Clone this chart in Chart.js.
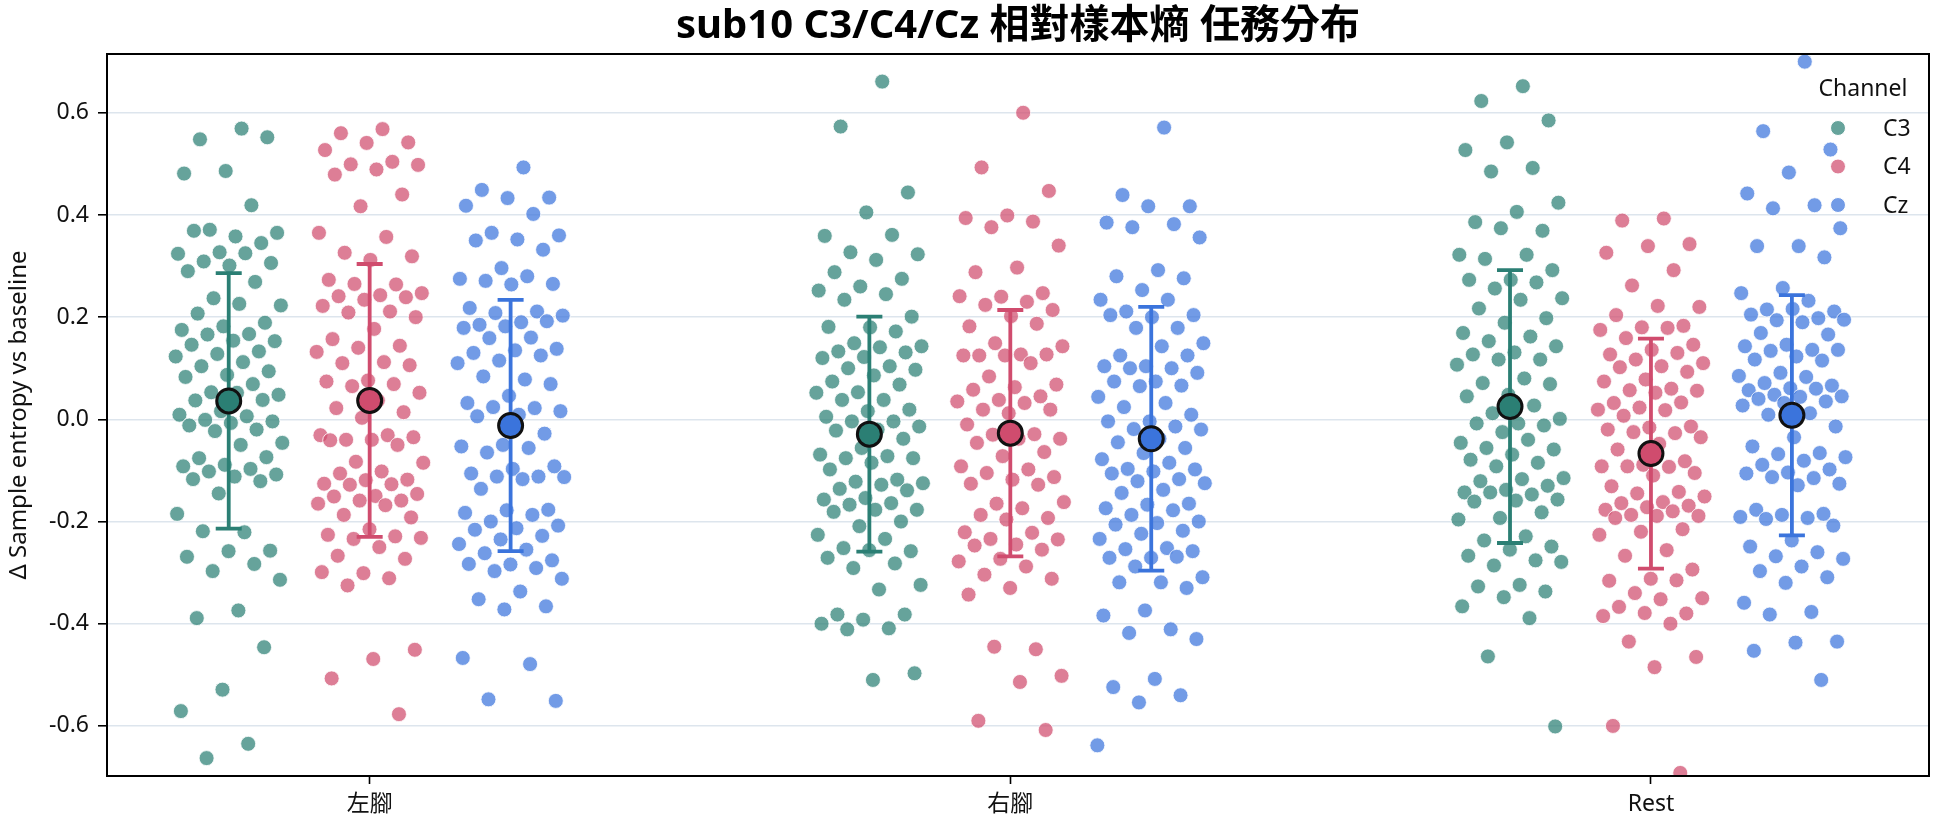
<!DOCTYPE html>
<html>
<head>
<meta charset="utf-8">
<title>sub10 C3/C4/Cz 相對樣本熵 任務分布</title>
<script src="https://cdn.jsdelivr.net/npm/chart.js@4.4.1/dist/chart.umd.min.js"></script>
<style>
    html, body { margin: 0; padding: 0; background: #fff; }
    #chart-area { display: block; }
</style>
</head>
<body>
<canvas id="chart-area" width="1944" height="827"></canvas>
<script>
const categories = ['左腳', '右腳', 'Rest'];
const channels = ['C3', 'C4', 'Cz'];
const yTicks = [-0.6, -0.4, -0.2, 0.0, 0.2, 0.4, 0.6];

// Δ sample entropy per trial
const c3Left = [0.569, 0.548, 0.552, 0.486, 0.481, 0.419, 0.371, 0.365, 0.358, 0.369, 0.345, 0.327, 0.324, 0.325, 0.309, 0.306, 0.301, 0.29, 0.269, 0.237, 0.223, 0.226, 0.207, 0.189, 0.182, 0.175, 0.167, 0.166, 0.153, 0.154, 0.146, 0.133, 0.128, 0.123, 0.112, 0.104, 0.094, 0.087, 0.083, 0.069, 0.053, 0.048, 0.052, 0.037, 0.038, 0.016, 0.009, 0.006, -0.001, -0.004, -0.007, -0.012, -0.02, -0.023, -0.046, -0.05, -0.076, -0.074, -0.089, -0.092, -0.097, -0.102, -0.108, -0.112, -0.117, -0.121, -0.145, -0.185, -0.221, -0.219, -0.257, -0.258, -0.269, -0.283, -0.297, -0.314, -0.374, -0.389, -0.446, -0.529, -0.571, -0.635, -0.663];
const c4Left = [0.568, 0.56, 0.542, 0.541, 0.527, 0.504, 0.499, 0.498, 0.489, 0.479, 0.44, 0.417, 0.365, 0.357, 0.326, 0.319, 0.312, 0.273, 0.264, 0.265, 0.247, 0.243, 0.241, 0.239, 0.234, 0.222, 0.211, 0.209, 0.2, 0.177, 0.157, 0.144, 0.14, 0.132, 0.112, 0.11, 0.106, 0.076, 0.074, 0.069, 0.065, 0.052, 0.037, 0.022, 0.014, 0.003, -0.031, -0.031, -0.04, -0.035, -0.04, -0.041, -0.05, -0.083, -0.085, -0.102, -0.106, -0.118, -0.119, -0.126, -0.127, -0.128, -0.146, -0.15, -0.151, -0.159, -0.159, -0.165, -0.168, -0.187, -0.192, -0.215, -0.226, -0.229, -0.234, -0.232, -0.25, -0.267, -0.273, -0.301, -0.299, -0.311, -0.325, -0.451, -0.469, -0.507, -0.577];
const czLeft = [0.493, 0.449, 0.434, 0.433, 0.418, 0.402, 0.365, 0.36, 0.352, 0.35, 0.332, 0.296, 0.275, 0.28, 0.271, 0.265, 0.264, 0.218, 0.211, 0.208, 0.203, 0.19, 0.185, 0.192, 0.182, 0.179, 0.16, 0.159, 0.138, 0.135, 0.13, 0.125, 0.115, 0.11, 0.078, 0.084, 0.069, 0.046, 0.032, 0.022, 0.024, 0.016, 0.009, 0.006, -0.028, -0.05, -0.053, -0.056, -0.065, -0.092, -0.097, -0.106, -0.112, -0.112, -0.113, -0.117, -0.136, -0.177, -0.178, -0.183, -0.187, -0.2, -0.208, -0.213, -0.216, -0.228, -0.235, -0.244, -0.255, -0.262, -0.276, -0.284, -0.283, -0.291, -0.297, -0.312, -0.337, -0.352, -0.366, -0.372, -0.467, -0.479, -0.548, -0.551];

const c3Right = [0.661, 0.573, 0.444, 0.405, 0.359, 0.361, 0.327, 0.323, 0.312, 0.288, 0.275, 0.26, 0.252, 0.245, 0.234, 0.201, 0.18, 0.181, 0.172, 0.149, 0.143, 0.141, 0.133, 0.131, 0.122, 0.12, 0.104, 0.1, 0.097, 0.086, 0.074, 0.068, 0.053, 0.052, 0.038, 0.038, 0.019, 0.016, 0.005, -0.004, -0.004, -0.014, -0.02, -0.022, -0.038, -0.056, -0.069, -0.072, -0.076, -0.076, -0.085, -0.098, -0.118, -0.122, -0.125, -0.128, -0.136, -0.139, -0.154, -0.157, -0.164, -0.167, -0.177, -0.177, -0.181, -0.2, -0.209, -0.226, -0.234, -0.252, -0.258, -0.256, -0.271, -0.282, -0.291, -0.324, -0.333, -0.382, -0.382, -0.392, -0.4, -0.409, -0.411, -0.497, -0.51];
const c4Right = [0.6, 0.493, 0.447, 0.399, 0.394, 0.387, 0.376, 0.34, 0.297, 0.288, 0.247, 0.24, 0.241, 0.23, 0.224, 0.214, 0.202, 0.182, 0.187, 0.149, 0.143, 0.127, 0.125, 0.127, 0.125, 0.125, 0.11, 0.084, 0.068, 0.063, 0.058, 0.045, 0.038, 0.035, 0.032, 0.019, 0.019, 0.012, -0.01, -0.029, -0.03, -0.038, -0.038, -0.046, -0.064, -0.072, -0.092, -0.098, -0.105, -0.113, -0.118, -0.126, -0.128, -0.165, -0.162, -0.174, -0.187, -0.193, -0.196, -0.221, -0.222, -0.234, -0.235, -0.245, -0.247, -0.255, -0.273, -0.278, -0.288, -0.304, -0.312, -0.33, -0.343, -0.45, -0.445, -0.502, -0.514, -0.59, -0.608];
const czRight = [0.571, 0.439, 0.417, 0.417, 0.385, 0.382, 0.376, 0.356, 0.292, 0.28, 0.276, 0.253, 0.234, 0.234, 0.211, 0.204, 0.2, 0.204, 0.179, 0.179, 0.149, 0.143, 0.125, 0.125, 0.104, 0.104, 0.1, 0.1, 0.091, 0.074, 0.074, 0.066, 0.065, 0.044, 0.032, 0.024, 0.009, -0.004, -0.004, -0.014, -0.019, -0.02, -0.038, -0.045, -0.056, -0.066, -0.078, -0.085, -0.097, -0.098, -0.102, -0.106, -0.117, -0.121, -0.125, -0.138, -0.144, -0.165, -0.167, -0.174, -0.178, -0.187, -0.2, -0.203, -0.206, -0.218, -0.224, -0.234, -0.252, -0.254, -0.258, -0.271, -0.271, -0.269, -0.288, -0.309, -0.319, -0.319, -0.33, -0.374, -0.384, -0.411, -0.418, -0.43, -0.508, -0.524, -0.54, -0.554, -0.638];

const c3Rest = [0.652, 0.623, 0.585, 0.542, 0.527, 0.492, 0.485, 0.424, 0.406, 0.386, 0.369, 0.374, 0.322, 0.322, 0.314, 0.292, 0.273, 0.273, 0.268, 0.256, 0.237, 0.234, 0.217, 0.198, 0.189, 0.169, 0.162, 0.153, 0.143, 0.131, 0.127, 0.117, 0.117, 0.107, 0.08, 0.071, 0.069, 0.048, 0.045, 0.027, 0.012, 0.001, -0.008, -0.008, -0.012, -0.025, -0.046, -0.04, -0.056, -0.059, -0.069, -0.079, -0.085, -0.092, -0.115, -0.117, -0.121, -0.13, -0.138, -0.143, -0.147, -0.143, -0.157, -0.159, -0.161, -0.182, -0.193, -0.196, -0.229, -0.237, -0.249, -0.255, -0.267, -0.276, -0.286, -0.279, -0.324, -0.327, -0.337, -0.348, -0.366, -0.389, -0.464, -0.601];
const c4Rest = [0.393, 0.389, 0.343, 0.339, 0.326, 0.292, 0.262, 0.22, 0.222, 0.204, 0.183, 0.18, 0.175, 0.179, 0.159, 0.146, 0.136, 0.127, 0.13, 0.117, 0.11, 0.104, 0.102, 0.093, 0.078, 0.074, 0.06, 0.057, 0.056, 0.052, 0.032, 0.033, 0.023, 0.019, 0.018, 0.007, -0.014, -0.016, -0.02, -0.027, -0.025, -0.035, -0.048, -0.059, -0.082, -0.089, -0.092, -0.093, -0.092, -0.105, -0.11, -0.131, -0.142, -0.145, -0.151, -0.162, -0.164, -0.169, -0.172, -0.177, -0.18, -0.187, -0.189, -0.189, -0.193, -0.215, -0.22, -0.226, -0.256, -0.267, -0.294, -0.312, -0.316, -0.315, -0.34, -0.35, -0.352, -0.367, -0.38, -0.379, -0.385, -0.4, -0.435, -0.465, -0.485, -0.6, -0.692];
const czRest = [0.7, 0.564, 0.528, 0.483, 0.442, 0.419, 0.413, 0.374, 0.339, 0.339, 0.317, 0.257, 0.247, 0.232, 0.215, 0.211, 0.216, 0.205, 0.198, 0.194, 0.195, 0.19, 0.169, 0.166, 0.146, 0.143, 0.136, 0.134, 0.136, 0.123, 0.117, 0.115, 0.091, 0.085, 0.083, 0.071, 0.066, 0.061, 0.057, 0.06, 0.048, 0.045, 0.044, 0.04, 0.035, 0.032, 0.027, 0.012, 0.009, -0.014, -0.035, -0.053, -0.066, -0.068, -0.074, -0.081, -0.089, -0.098, -0.104, -0.106, -0.115, -0.113, -0.126, -0.129, -0.177, -0.185, -0.187, -0.191, -0.193, -0.195, -0.208, -0.237, -0.249, -0.26, -0.268, -0.273, -0.288, -0.297, -0.309, -0.32, -0.359, -0.377, -0.382, -0.435, -0.437, -0.453, -0.51];

// mean and SD per task (左腳, 右腳, Rest)
const meanC3 = [0.036, -0.029, 0.025];
const meanC4 = [0.037, -0.027, -0.067];
const meanCz = [-0.012, -0.038, 0.008];
const sdC3 = [0.25, 0.23, 0.267];
const sdC4 = [0.267, 0.241, 0.225];
const sdCz = [0.246, 0.258, 0.235];

const cores = ['#2b7f74', '#d04c6e', '#3b74dc'];
const dodge = [-0.22, 0, 0.22];
const fonte = "'Noto Sans', 'Noto Sans CJK TC', sans-serif";

function rgba(hex, a) {
    const n = parseInt(hex.slice(1), 16);
    return 'rgba(' + (n >> 16) + ',' + ((n >> 8) & 255) + ',' + (n & 255) + ',' + a + ')';
}

// spread points sideways like a strip plot
function jitter(i) {
    return (((i + 1) * 0.618034) % 1 - 0.5) * 0.17;
}

function pontos(grupos, offset) {
    let pts = [];
    grupos.forEach((vals, k) => {
        vals.forEach((v, i) => pts.push({ x: k + offset + jitter(i), y: v }));
    });
    return pts;
}

const valores = [
    [c3Left, c3Right, c3Rest],
    [c4Left, c4Right, c4Rest],
    [czLeft, czRight, czRest]
];
const medias = [meanC3, meanC4, meanCz];
const desvios = [sdC3, sdC4, sdCz];

let mediaPts = [];
let mediaCores = [];
let barras = [];
categories.forEach((cat, k) => {
    channels.forEach((ch, c) => {
        const x = k + dodge[c];
        mediaPts.push({ x: x, y: medias[c][k] });
        mediaCores.push(cores[c]);
        barras.push({ x: x, lo: medias[c][k] - desvios[c][k], hi: medias[c][k] + desvios[c][k], cor: cores[c] });
    });
});

const errorBars = {
    id: 'errorBars',
    beforeDatasetDraw(chart, args) {
        if (args.index !== 3) return;
        const ctx = chart.ctx;
        const sx = chart.scales.x, sy = chart.scales.y;
        ctx.save();
        ctx.lineWidth = 3.8;
        barras.forEach(b => {
            const px = sx.getPixelForValue(b.x);
            const top = sy.getPixelForValue(b.hi);
            const bot = sy.getPixelForValue(b.lo);
            ctx.strokeStyle = b.cor;
            ctx.beginPath();
            ctx.moveTo(px, top);
            ctx.lineTo(px, bot);
            ctx.moveTo(px - 13, top);
            ctx.lineTo(px + 13, top);
            ctx.moveTo(px - 13, bot);
            ctx.lineTo(px + 13, bot);
            ctx.stroke();
        });
        ctx.restore();
    }
};

const moldura = {
    id: 'moldura',
    afterDraw(chart) {
        const ctx = chart.ctx;
        const a = chart.chartArea;
        ctx.save();
        ctx.strokeStyle = '#000';
        ctx.lineWidth = 2;
        ctx.strokeRect(a.left, a.top, a.right - a.left, a.bottom - a.top);

        // title
        ctx.fillStyle = '#000';
        ctx.font = 'bold 40px ' + fonte;
        ctx.textAlign = 'center';
        ctx.textBaseline = 'middle';
        ctx.fillText('sub10 C3/C4/Cz 相對樣本熵 任務分布', (a.left + a.right) / 2, 27);

        // legend
        ctx.font = '23px ' + fonte;
        ctx.fillStyle = '#111';
        ctx.fillText('Channel', 1863, 89);
        ctx.textAlign = 'left';
        channels.forEach((ch, c) => {
            const y = 128 + c * 38.5;
            ctx.beginPath();
            ctx.arc(1838, y, 7.5, 0, Math.PI * 2);
            ctx.fillStyle = rgba(cores[c], 0.72);
            ctx.fill();
            ctx.lineWidth = 1;
            ctx.strokeStyle = '#fff';
            ctx.stroke();
            ctx.fillStyle = '#111';
            ctx.fillText(ch, 1883, y + 1);
        });
        ctx.restore();
    }
};

function gerarGrafico() {
    let datasets = channels.map((ch, c) => ({
        label: ch,
        data: pontos(valores[c], dodge[c]),
        backgroundColor: rgba(cores[c], 0.72),
        borderColor: 'rgba(255,255,255,0.8)',
        borderWidth: 1,
        pointRadius: 7.5,
        order: 1
    }));
    datasets.push({
        label: 'mean',
        data: mediaPts,
        backgroundColor: mediaCores,
        borderColor: '#111',
        borderWidth: 3,
        pointRadius: 12,
        order: 0
    });

    let config = {
        type: 'scatter',
        data: { datasets: datasets },
        options: {
            responsive: false,
            animation: false,
            devicePixelRatio: 1,
            layout: { padding: { top: 54, right: 9, left: 0, bottom: 0 } },
            plugins: {
                legend: { display: false },
                tooltip: { enabled: false }
            },
            scales: {
                x: {
                    type: 'linear',
                    min: -0.41,
                    max: 2.434,
                    afterFit: s => { s.height = 51; },
                    afterBuildTicks: s => { s.ticks = categories.map((c, i) => ({ value: i })); },
                    grid: { drawOnChartArea: false, tickLength: 8, tickColor: '#000', tickWidth: 1.6 },
                    border: { display: false },
                    ticks: {
                        padding: 7,
                        color: '#111',
                        font: { family: fonte, size: 23 },
                        callback: v => categories[v]
                    }
                },
                y: {
                    min: -0.698,
                    max: 0.715,
                    afterFit: s => { s.width = 107; },
                    afterBuildTicks: s => { s.ticks = yTicks.map(v => ({ value: v })); },
                    grid: { color: '#dde5ed', lineWidth: 1.6, tickLength: 9, tickColor: '#000', tickWidth: 1.6 },
                    border: { display: false },
                    ticks: {
                        padding: 9,
                        color: '#111',
                        font: { family: fonte, size: 23 },
                        callback: v => v.toFixed(1)
                    },
                    title: {
                        display: true,
                        text: 'Δ Sample entropy vs baseline',
                        color: '#111',
                        font: { family: fonte, size: 24 },
                        padding: { top: 5, bottom: 0 }
                    }
                }
            }
        },
        plugins: [errorBars, moldura]
    };

    let ctx = document.getElementById('chart-area').getContext('2d');
    window.myStrip = new Chart(ctx, config);
}

gerarGrafico();
</script>
</body>
</html>
